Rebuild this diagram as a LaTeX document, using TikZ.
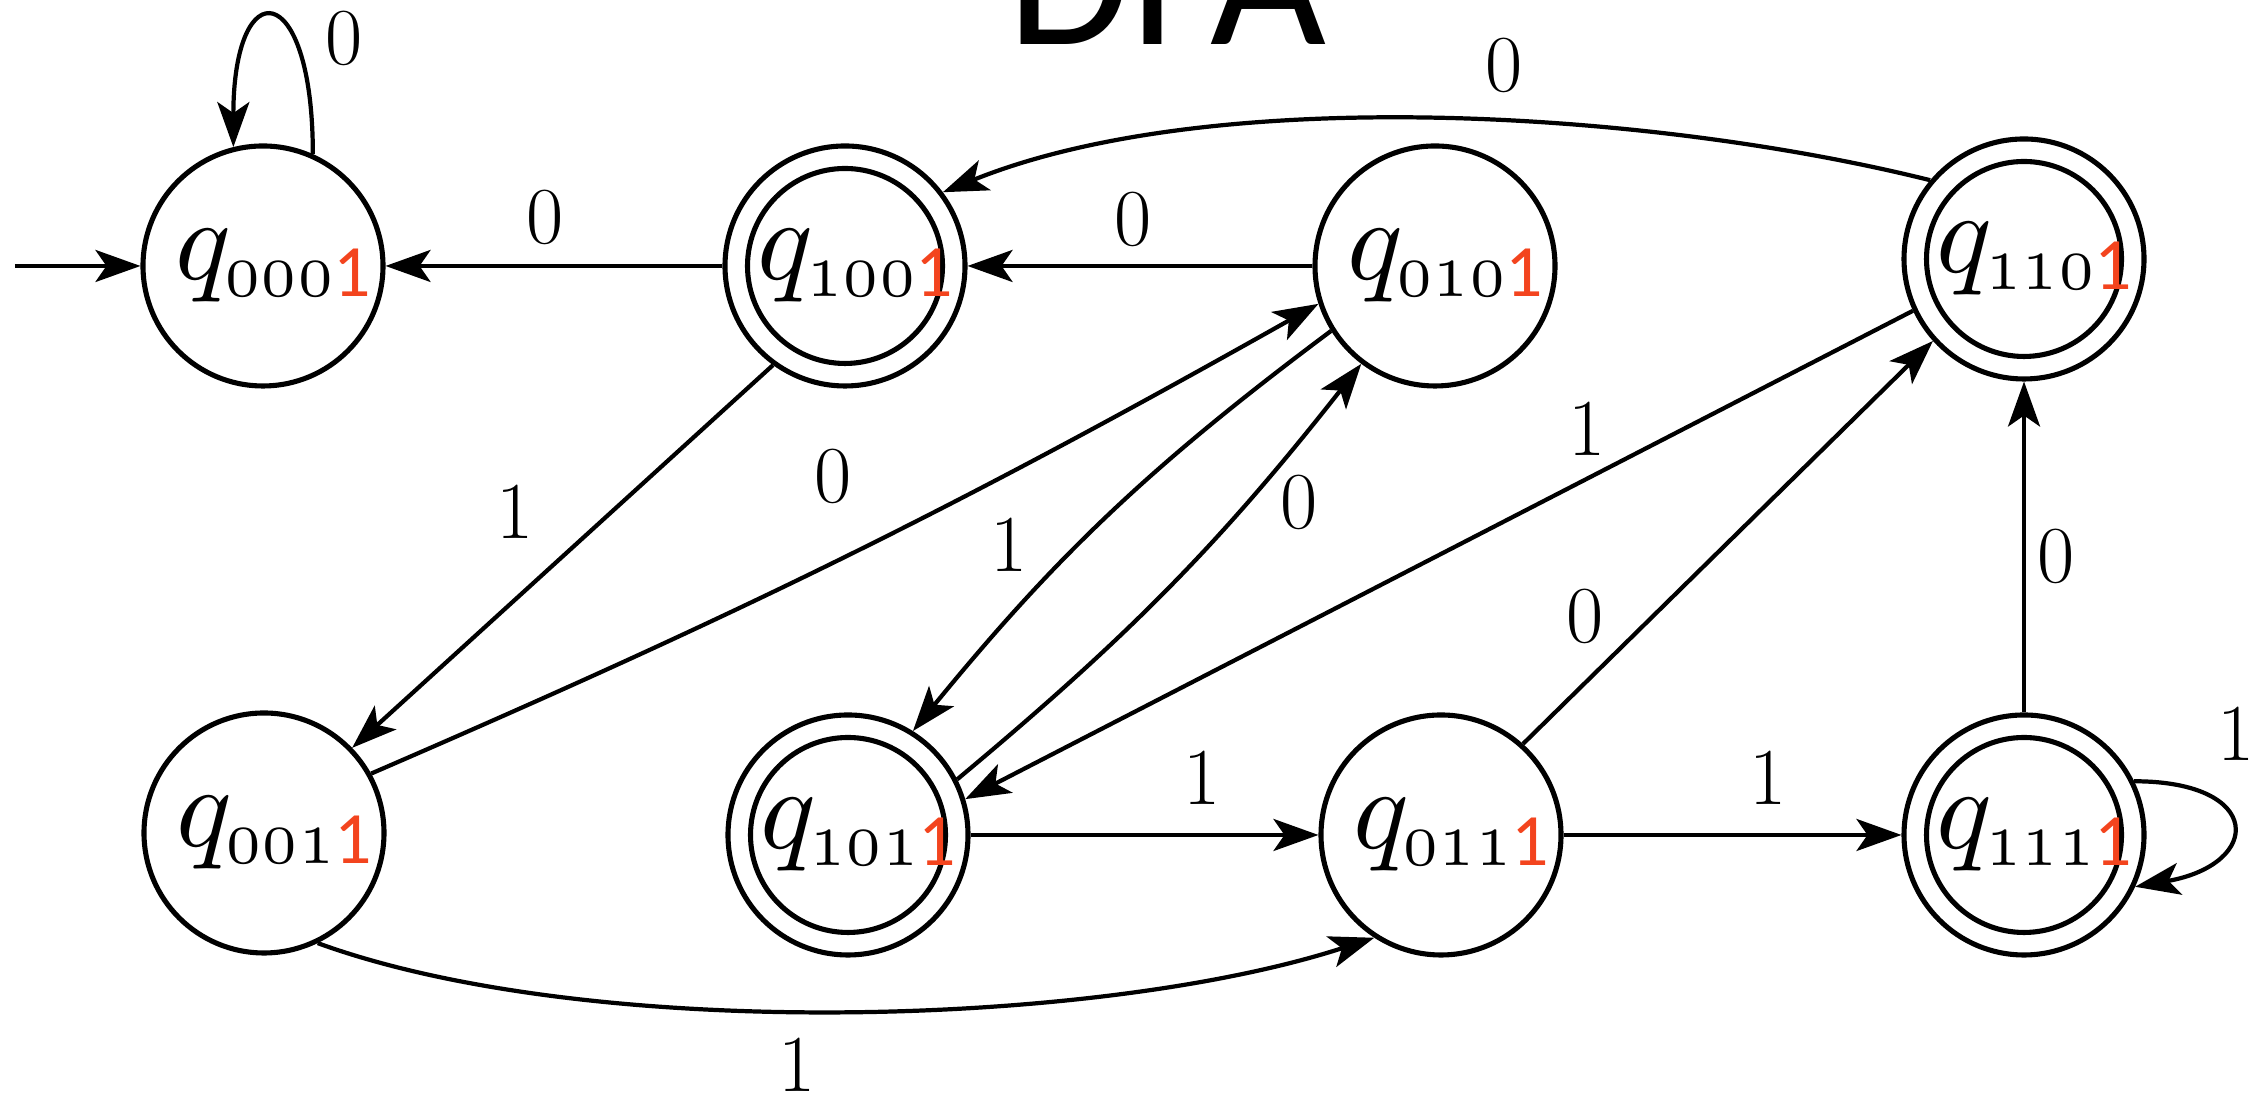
\documentclass[tikz,border=0pt]{standalone}
\usepackage{fontspec}
\usepackage{graphicx}
\usetikzlibrary{arrows.meta}
\newfontfamily\carlito{Carlito}
\definecolor{hired}{RGB}{243,68,30}
% highlighted trailing bit of a state name
\newcommand{\hiOne}{{\carlito\fontsize{21}{21}\selectfont\textcolor{hired}{1}}}
% state name: large q with a lowered index
\newcommand{\stname}[1]{\hspace*{0.2cm}\scalebox{3.3}{$q$}\kern-0.07cm\raisebox{-0.17cm}{\scalebox{3.05}{\fontsize{5}{6}\selectfont #1}\hiOne}}
\tikzset{
  dstate/.style={circle, draw, line width=1.45pt, minimum size=2.4cm, inner sep=0pt},
  dacc/.style={dstate, path picture={\draw[line width=1.45pt] (path picture bounding box.center) circle (0.975cm);}},
  edge/.style={-{Stealth[length=0.45cm,width=0.32cm,inset=0.11cm]}, line width=1.2pt},
  lbl/.style={inner sep=0pt, font=\fontsize{23}{23}\selectfont}
}
\begin{document}
\begin{tikzpicture}
\clip (0,0) rectangle (22.63,11.01);

% title
\node[anchor=base, inner sep=0pt, font=\carlito\fontsize{57}{57}\selectfont] (title) at (11.67,10.56) {DFA};

% states
\node[dstate] (q0001) at (2.63,8.35) {\stname{000}};
\node[dacc]   (q1001) at (8.45,8.35) {\stname{100}};
\node[dstate] (q0101) at (14.35,8.35) {\stname{010}};
\node[dacc]   (q1101) at (20.24,8.42) {\stname{110}};
\node[dstate] (q0011) at (2.64,2.68) {\stname{001}};
\node[dacc]   (q1011) at (8.48,2.66) {\stname{101}};
\node[dstate] (q0111) at (14.41,2.66) {\stname{011}};
\node[dacc]   (q1111) at (20.24,2.66) {\stname{111}};

% initial arrow
\coordinate (start) at (0.15,8.35);
\draw[edge] (start) -- (q0001);

% transitions
\draw[edge] (q0001.66) .. controls +(90:1.77) and +(90:1.77) .. (q0001.104);
\draw[edge] (q1001) -- (q0001);
\draw[edge] (q0101) -- (q1001);
\draw[edge] (q1101.140) to[out=166, in=22, looseness=0.75] (q1001.37);
\draw[edge] (q1001.234) -- (q0011.44);
\draw[edge] (q0011.29) to[bend right=3] (q0101.198);
\draw[edge] (q0101.212) to[bend right=7] (q1011.58);
\draw[edge] (q1011.27) to[bend right=6] (q0101.233);
\draw[edge] (q1101.205) -- (q1011.17);
\draw[edge] (q1011) -- (q0111);
\draw[edge] (q0011.-64) to[out=-20, in=-162, looseness=0.7] (q0111.-123);
\draw[edge] (q0111.48) -- (q1101.222);
\draw[edge] (q0111) -- (q1111);
\draw[edge] (q1111) -- (q1101);
\draw[edge] (q1111.26) .. controls +(0:1.3) and +(10:1.3) .. (q1111.-25);

% transition labels
\node[lbl] (l1)  at (3.44,10.63) {0};
\node[lbl] (l2)  at (5.45,8.84) {0};
\node[lbl] (l3)  at (11.33,8.82) {0};
\node[lbl] (l4)  at (15.04,10.36) {0};
\node[lbl] (l5)  at (5.15,5.89) {1};
\node[lbl] (l6)  at (8.33,6.25) {0};
\node[lbl] (l7)  at (10.09,5.56) {1};
\node[lbl] (l8)  at (12.99,5.99) {0};
\node[lbl] (l9)  at (15.87,6.72) {1};
\node[lbl] (l10) at (15.85,4.85) {0};
\node[lbl] (l11) at (20.56,5.45) {0};
\node[lbl] (l12) at (12.02,3.23) {1};
\node[lbl] (l13) at (17.68,3.23) {1};
\node[lbl] (l14) at (22.36,3.67) {1};
\node[lbl] (l15) at (7.97,0.36) {1};
\end{tikzpicture}
\end{document}
